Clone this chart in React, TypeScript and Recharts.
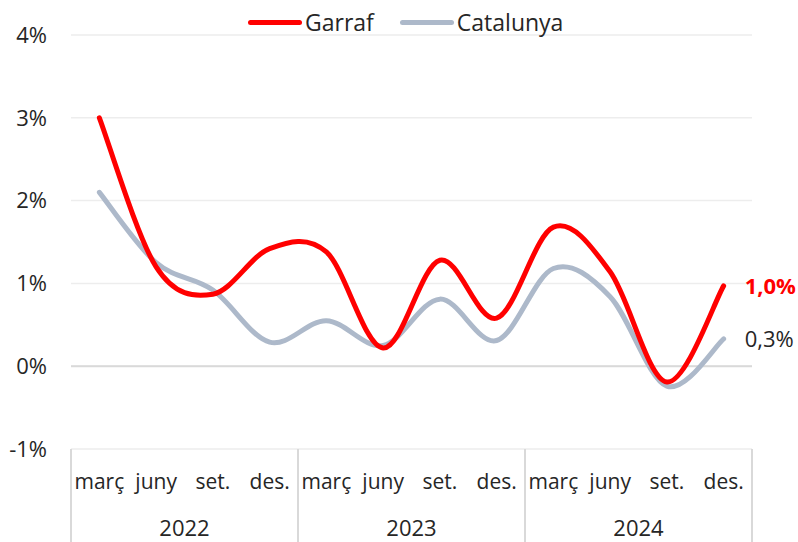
import React from 'react';
import { LineChart, Line, XAxis, YAxis, CartesianGrid, ReferenceLine } from 'recharts';

const quarters = ['març', 'juny', 'set.', 'des.', 'març', 'juny', 'set.', 'des.', 'març', 'juny', 'set.', 'des.'];
const years = ['2022', '2023', '2024'];
const garraf = [3.0, 1.2, 0.87, 1.42, 1.38, 0.22, 1.28, 0.58, 1.68, 1.14, -0.19, 0.97];
const catalunya = [2.1, 1.25, 0.92, 0.29, 0.55, 0.25, 0.81, 0.31, 1.18, 0.84, -0.24, 0.33];
const yTicks = [-1, 0, 1, 2, 3, 4];
const seriesNames = ['Garraf', 'Catalunya'];
const seriesColors = ['#FF0000', '#ADB9CA'];

const data = quarters.map((q, i) => ({
  q,
  year: years[Math.floor(i / 4)],
  garraf: garraf[i],
  catalunya: catalunya[i],
}));

const FONT = '"Open Sans", sans-serif';
const W = 798;
const H = 542;
const M = { top: 35, right: 46, left: 0, bottom: 0 };
const Y_W = 71;
const X_H = 93;
const plotW = W - M.right - Y_W;
const band = plotW / quarters.length;

// Excel-like smoothed line (Catmull-Rom style Bezier)
function excelCurve(context: any) {
  let pts: number[][] = [];
  return {
    areaStart() {},
    areaEnd() {},
    lineStart() { pts = []; },
    point(x: number, y: number) { pts.push([+x, +y]); },
    lineEnd() {
      const n = pts.length;
      if (!n) return;
      context.moveTo(pts[0][0], pts[0][1]);
      const t = 1 / 6;
      for (let i = 0; i < n - 1; i++) {
        const p0 = pts[i - 1] || pts[i];
        const p1 = pts[i];
        const p2 = pts[i + 1];
        const p3 = pts[i + 2] || p2;
        context.bezierCurveTo(
          p1[0] + (p2[0] - p0[0]) * t, p1[1] + (p2[1] - p0[1]) * t,
          p2[0] - (p3[0] - p1[0]) * t, p2[1] - (p3[1] - p1[1]) * t,
          p2[0], p2[1]
        );
      }
    },
  };
}

const fmtEnd = (v: number) => v.toFixed(1).replace('.', ',') + '%';

const XTick = (props: any) => {
  const { x, y, payload, index } = props;
  const i = index;
  const half = band / 2;
  const els: any[] = [];
  els.push(
    <text key="q" x={x} y={y + 40} textAnchor="middle" fontSize={21} fontFamily={FONT} fill="#262626">
      {payload.value}
    </text>
  );
  if (i % 4 === 0) {
    els.push(<line key="l" x1={x - half} x2={x - half} y1={y} y2={H} stroke="#D9D9D9" strokeWidth={2} />);
  }
  if (i === quarters.length - 1) {
    els.push(<line key="r" x1={x + half} x2={x + half} y1={y} y2={H} stroke="#D9D9D9" strokeWidth={2} />);
  }
  if (i % 4 === 1) {
    els.push(
      <text key="y" x={x + half} y={y + 87} textAnchor="middle" fontSize={22} fontFamily={FONT} fill="#262626">
        {years[Math.floor(i / 4)]}
      </text>
    );
  }
  return <g>{els}</g>;
};

const makeEndLabel = (color: string, bold: boolean) => (props: any) => {
  const { x, y, index, value } = props;
  if (index !== quarters.length - 1) return null;
  return (
    <text x={x + 21} y={y} dy="0.35em" textAnchor="start" fontSize={22} fontFamily={FONT}
      fontWeight={bold ? 700 : 400} fill={color}>
      {fmtEnd(value)}
    </text>
  );
};

export default function App() {
  return (
    <div style={{ position: 'absolute', left: 0, top: 0, width: W, height: H, background: '#fff' }}>
      <LineChart width={W} height={H} data={data} margin={M}>
        <CartesianGrid horizontal vertical={false} stroke="#EDEDED" strokeWidth={1.5} />
        <XAxis dataKey="q" height={X_H} axisLine={false} tickLine={false} tickSize={0} tickMargin={0}
          interval={0} padding={{ left: band / 2, right: band / 2 }} tick={<XTick />} />
        <YAxis width={Y_W} domain={[-1, 4]} ticks={yTicks} axisLine={false} tickLine={false}
          tickSize={0} tickMargin={24} tickFormatter={(v: number) => `${v}%`}
          tick={{ fontSize: 22, fontFamily: FONT, fill: '#262626' }} />
        <ReferenceLine y={0} stroke="#D9D9D9" strokeWidth={2} />
        <Line dataKey="catalunya" name={seriesNames[1]} stroke={seriesColors[1]} strokeWidth={5}
          type={excelCurve as any} dot={false} isAnimationActive={false} strokeLinecap="round"
          label={makeEndLabel('#262626', false)} />
        <Line dataKey="garraf" name={seriesNames[0]} stroke={seriesColors[0]} strokeWidth={5}
          type={excelCurve as any} dot={false} isAnimationActive={false} strokeLinecap="round"
          label={makeEndLabel(seriesColors[0], true)} />
      </LineChart>
      <div style={{ position: 'absolute', top: 7, left: 248, display: 'flex', alignItems: 'center',
        fontFamily: FONT, fontSize: 23, color: '#262626', lineHeight: '30px', whiteSpace: 'nowrap' }}>
        {seriesNames.map((n, i) => (
          <div key={n} style={{ display: 'flex', alignItems: 'center', marginRight: 26 }}>
            <div style={{ width: 54, height: 5, borderRadius: 3, background: seriesColors[i], marginRight: 3 }} />
            <span>{n}</span>
          </div>
        ))}
      </div>
    </div>
  );
}
